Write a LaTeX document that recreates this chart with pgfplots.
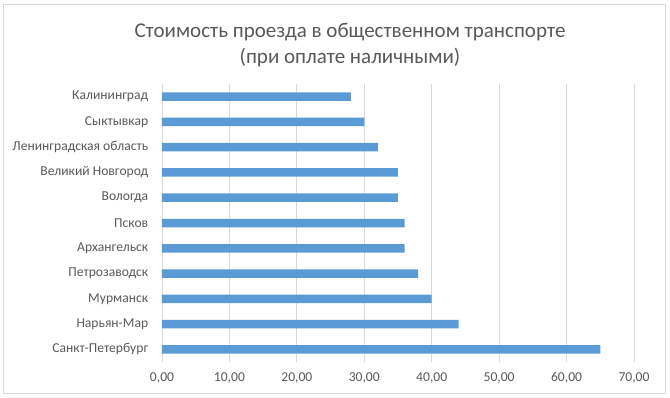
\documentclass[border=0pt]{standalone}
\usepackage{pgfplots}
\pgfplotsset{compat=1.18}
\usepackage{fontspec}
\setmainfont{Carlito}
\definecolor{barblue}{HTML}{5B9BD5}
\definecolor{txtgray}{HTML}{595959}
\definecolor{gridgray}{HTML}{D9D9D9}
\begin{document}
\begin{tikzpicture}[x=1pt,y=1pt]
\useasboundingbox (0,0) rectangle (670,397);
\draw[gridgray, line width=0.8pt] (3,4) rectangle (665,393);
\node[text=txtgray, font=\fontsize{21}{25}\selectfont] at (350,365) {Стоимость проезда в общественном транспорте};
\node[text=txtgray, font=\fontsize{21}{25}\selectfont] at (350,339) {(при оплате наличными)};
\begin{axis}[
  at={(162pt,35pt)}, anchor=south west,
  scale only axis, width=472pt, height=278pt,
  xmin=0, xmax=70, ymin=-0.5, ymax=10.5,
  xbar, bar width=8.5pt,
  axis line style={draw=none},
  tick style={draw=none},
  xtick={0,10,...,70},
  ytick={0,...,10},
  yticklabels={Санкт-Петербург, Нарьян-Мар, Мурманск, Петрозаводск, Архангельск, Псков, Вологда, Великий Новгород, Ленинградская область, Сыктывкар, Калининград},
  xmajorgrids, major grid style={gridgray, line width=0.8pt},
  ticklabel style={text=txtgray, font=\fontsize{13.6}{16}\selectfont},
  yticklabel style={xshift=-6pt},
  xticklabel style={yshift=-7pt},
  /pgf/number format/.cd, fixed, fixed zerofill, precision=2, use comma, assume math mode=true,
]
\addplot[fill=barblue, draw=none] coordinates {
(65,0) (44,1) (40,2) (38,3) (36,4) (36,5) (35,6) (35,7) (32,8) (30,9) (28,10)
};
\end{axis}
\end{tikzpicture}
\end{document}
